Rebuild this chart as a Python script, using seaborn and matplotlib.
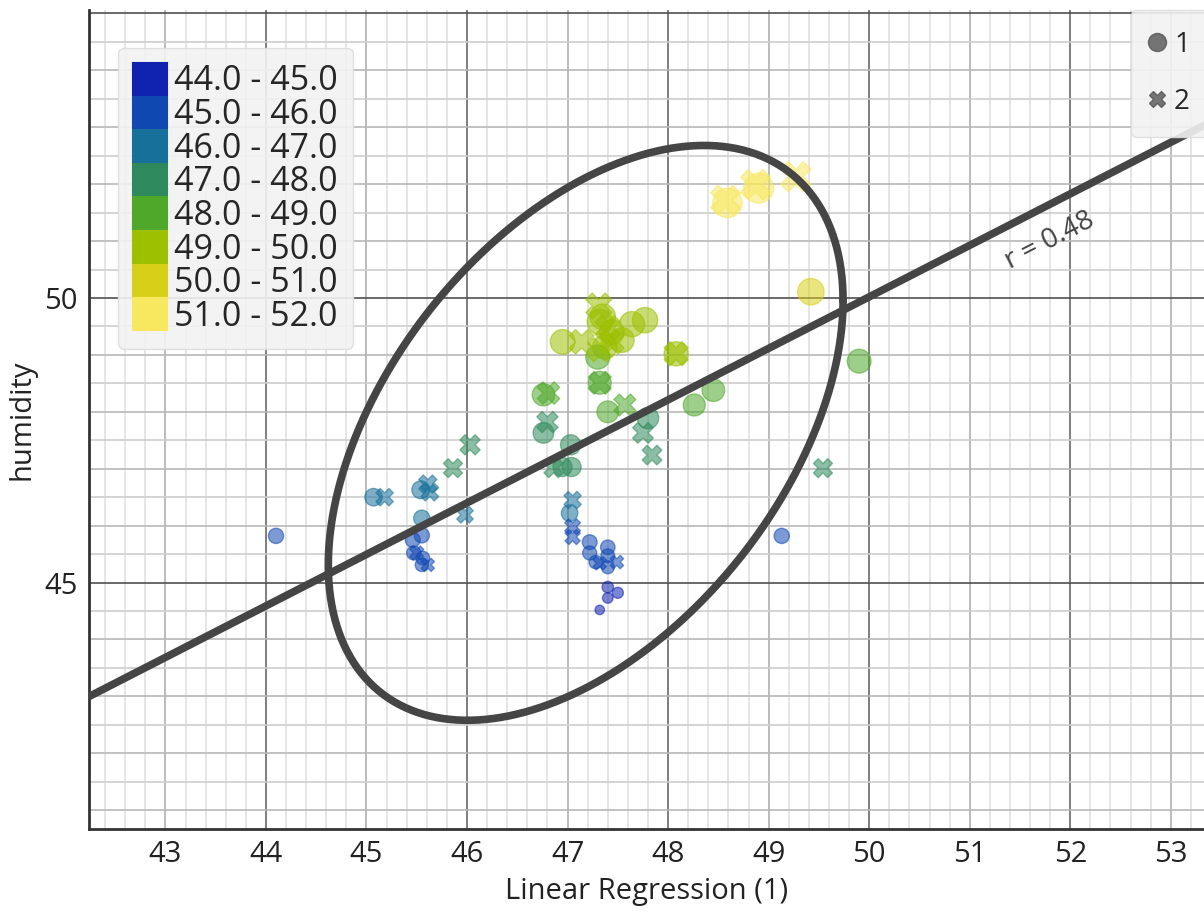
import numpy as np
import pandas as pd
import matplotlib.pyplot as plt
import seaborn as sns
from matplotlib.patches import Patch
from matplotlib.lines import Line2D
from matplotlib.ticker import FixedLocator

sns.set_style("white")
plt.rcParams["font.family"] = ["Open Sans", "DejaVu Sans"]

# ---------- data ----------
# group "1" (circles)
lr_1 = [44.10, 49.13, 45.07, 49.42, 49.90, 48.59, 48.90, 47.35, 47.77, 47.64,
        46.95, 47.32, 47.44, 47.54, 47.37, 47.30, 47.32, 48.08, 46.76, 47.40,
        48.26, 48.45, 47.80, 46.76, 47.03, 46.95, 47.04, 45.54, 45.55, 45.46,
        45.55, 45.47, 45.56, 45.55, 47.02, 47.22, 47.22, 47.40, 47.40, 47.40,
        47.40, 47.50, 47.40, 47.32, 47.28]
hum_1 = [45.82, 45.82, 46.50, 50.11, 48.89, 51.67, 51.93, 49.67, 49.61, 49.54,
         49.23, 49.58, 49.40, 49.26, 49.14, 48.96, 48.51, 49.02, 48.30, 48.00,
         48.12, 48.38, 47.89, 47.63, 47.42, 47.03, 47.03, 46.63, 46.13, 45.75,
         45.83, 45.52, 45.43, 45.31, 46.22, 45.71, 45.52, 45.62, 45.47, 45.27,
         44.92, 44.82, 44.73, 44.52, 45.36]
# group "2" (crosses)
lr_2 = [45.18, 48.57, 48.87, 49.27, 47.31, 47.14, 47.40, 47.44, 47.32, 47.32,
        48.08, 46.81, 47.57, 47.75, 47.84, 46.80, 46.03, 45.86, 46.86, 45.61,
        45.63, 45.98, 45.50, 45.61, 47.05, 47.05, 47.05, 47.49, 47.32, 49.54]
hum_2 = [46.50, 51.72, 51.99, 52.13, 49.86, 49.23, 49.47, 49.23, 49.09, 48.51,
         49.02, 48.33, 48.12, 47.63, 47.24, 47.82, 47.42, 47.01, 47.01, 46.73,
         46.59, 46.19, 45.52, 45.31, 46.45, 45.98, 45.80, 45.36, 45.34, 47.01]

group_labels = ["1", "2"]
bin_edges = [44, 45, 46, 47, 48, 49, 50, 51, 52]
bin_labels = ["44.0 - 45.0", "45.0 - 46.0", "46.0 - 47.0", "47.0 - 48.0",
              "48.0 - 49.0", "49.0 - 50.0", "50.0 - 51.0", "51.0 - 52.0"]
bin_colors = ["#0f22b0", "#1048b2", "#17709a", "#2e8a5c",
              "#4fa82a", "#9cc000", "#d8d018", "#f8e860"]

x_ticks = [43, 44, 45, 46, 47, 48, 49, 50, 51, 52, 53]
y_ticks = [45, 50]

# regression line / ellipse
reg_slope = 0.905
reg_intercept = 4.77
r_label = "r = 0.48"
ell_center = (47.18, 47.63)
ell_sx, ell_sy, ell_rho = 2.56, 5.05, 0.46

# ---------- frame ----------
df = pd.concat([
    pd.DataFrame({"lr": lr_1, "hum": hum_1, "group": group_labels[0]}),
    pd.DataFrame({"lr": lr_2, "hum": hum_2, "group": group_labels[1]}),
], ignore_index=True)
# values just above the top edge belong to the last bin
df["bin"] = pd.cut(df["hum"].clip(bin_edges[0], bin_edges[-1] - 1e-6), bin_edges,
                   labels=bin_labels, right=False).astype(str)

fig = plt.figure(figsize=(12.04, 9.15), dpi=100)
ax = fig.add_axes([89 / 1204, 86 / 915, 1115 / 1204, 819 / 915])
ax.set_xlim(42.24, 53.33)
ax.set_ylim(40.67, 55.06)

ax.xaxis.set_major_locator(FixedLocator(x_ticks))
ax.yaxis.set_major_locator(FixedLocator(y_ticks))
ax.grid(False)

# grid: three levels each way
for v in np.arange(42.4, 53.4, 0.2):
    ax.axvline(v, color="#e0e0e0", lw=1.2, zorder=0)
for v in np.arange(43, 54, 1):
    ax.axvline(v, color="#b4b4b4" if v % 2 else "#6e6e6e", lw=1.2, zorder=0.5)
for v in np.arange(41, 55.1, 0.5):
    c = "#505050" if v % 5 == 0 else ("#b8b8b8" if v % 1 == 0 else "#cdcdcd")
    ax.axhline(v, color=c, lw=1.2, zorder=0.5)

sns.scatterplot(
    data=df, x="lr", y="hum",
    hue="bin", hue_order=bin_labels, palette=dict(zip(bin_labels, bin_colors)),
    style="group", style_order=group_labels, markers={"1": "o", "2": "X"},
    size="hum", sizes=(45, 480), size_norm=(44.5, 52.2),
    alpha=0.55, edgecolor="face", linewidth=1, legend=False, ax=ax, zorder=3,
)

# regression line and ellipse
ax.axline((0, reg_intercept), slope=reg_slope, color="#454545", lw=5.5, zorder=4)
t = np.linspace(0, 2 * np.pi, 400)
ex = ell_center[0] + ell_sx * np.cos(t)
ey = ell_center[1] + ell_sy * (ell_rho * np.cos(t) + np.sqrt(1 - ell_rho ** 2) * np.sin(t))
ax.plot(ex, ey, color="#454545", lw=5.5, zorder=4)
ax.text(51.8, 51.0, r_label, rotation=np.degrees(np.arctan(reg_slope)),
        transform_rotates_text=True, rotation_mode="anchor",
        ha="center", va="center", fontsize=20, color="#444444", zorder=5)

# axes cosmetics
for s in ["top", "right"]:
    ax.spines[s].set_visible(False)
for s in ["left", "bottom"]:
    ax.spines[s].set_color("#333333")
    ax.spines[s].set_linewidth(2)
ax.tick_params(which="both", length=0, labelsize=21, colors="#222222", pad=8)
ax.set_xlabel("Linear Regression (1)", fontsize=21, color="#222222", labelpad=6)
ax.set_ylabel("humidity", fontsize=21, color="#222222", labelpad=6)

# legends
color_handles = [Patch(facecolor=c, edgecolor=c, linewidth=1.5) for c in bin_colors]
leg1 = ax.legend(color_handles, bin_labels, loc="upper left",
                 bbox_to_anchor=(0.026, 0.954), borderaxespad=0, fontsize=24.5,
                 handlelength=1.0, handleheight=1.06, handletextpad=0.2,
                 labelspacing=-0.055, borderpad=0.45, frameon=True, fancybox=True,
                 facecolor="#f2f2f2", edgecolor="#dddddd", framealpha=0.9)
leg1.set_zorder(10)
ax.add_artist(leg1)

shape_handles = [
    Line2D([], [], ls="none", marker="o", markersize=13, color="#555555", alpha=0.8),
    Line2D([], [], ls="none", marker="X", markersize=11, color="#555555", alpha=0.8),
]
leg2 = ax.legend(shape_handles, group_labels, loc="upper left",
                 bbox_to_anchor=(0.9345, 1.0), borderaxespad=0, fontsize=20,
                 handlelength=0.35, handletextpad=0.45, labelspacing=1.05,
                 borderpad=0.75, frameon=True, fancybox=True,
                 facecolor="#f2f2f2", edgecolor="#dddddd", framealpha=0.9)
leg2.set_zorder(10)

fig.savefig("out.png", dpi=100)
